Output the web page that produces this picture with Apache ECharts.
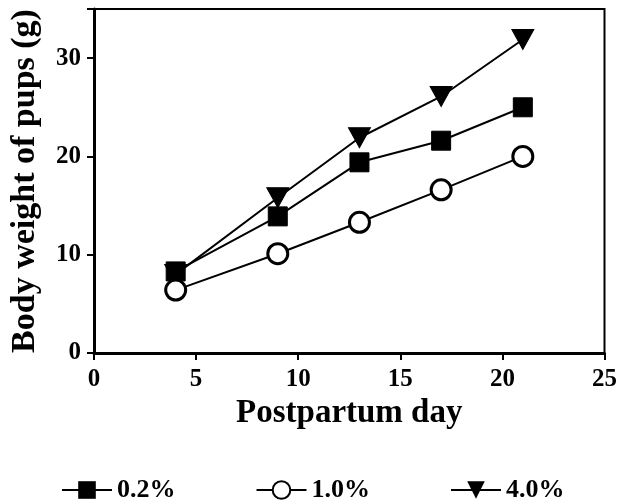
<!DOCTYPE html>
<html>
<head>
<meta charset="utf-8">
<script src="https://cdn.jsdelivr.net/npm/echarts@6/dist/echarts.min.js"></script>
<style>
  html, body { margin: 0; padding: 0; background: #fff; }
  #chart { width: 620px; height: 502px; }
</style>
</head>
<body>
<div id="chart"></div>
<script>
var days = [4, 9, 13, 17, 21];
var low = [8.3, 13.9, 19.4, 21.6, 25.0];    // 0.2%
var mid = [6.4, 10.1, 13.3, 16.6, 20.0];    // 1.0%
var high = [8.0, 15.8, 21.9, 26.1, 31.9];   // 4.0%
var names = ['0.2%', '1.0%', '4.0%'];

function pairs(ys) {
  var out = [];
  for (var i = 0; i < days.length; i++) {
    out.push([days[i], ys[i]]);
  }
  return out;
}

var font = 'Liberation Serif';
var downTri = 'path://M0,0 L10,0 L5,9 Z';

var chart = echarts.init(document.getElementById('chart'));
chart.setOption({
  animation: false,
  grid: { left: 93, right: 14, top: 9, bottom: 149, show: true, borderColor: '#000', borderWidth: 2 },
  legend: {
    left: 56, top: 472,
    itemWidth: 50, itemHeight: 22, itemGap: 80,
    textStyle: { fontFamily: font, fontWeight: 'bold', fontSize: 26, color: '#000' },
    data: names
  },
  xAxis: {
    type: 'value', min: 0, max: 25, interval: 5,
    name: 'Postpartum day', nameLocation: 'middle', nameGap: 44,
    nameTextStyle: { fontFamily: font, fontWeight: 'bold', fontSize: 33, color: '#000' },
    axisLine: { onZero: false, lineStyle: { color: '#000', width: 3 } },
    axisTick: { length: 7, lineStyle: { color: '#000', width: 2 } },
    axisLabel: { fontFamily: font, fontWeight: 'bold', fontSize: 25, color: '#000', margin: 14 },
    splitLine: { show: false }
  },
  yAxis: {
    type: 'value', min: 0, max: 35, interval: 10,
    name: 'Body weight of pups (g)', nameLocation: 'middle', nameGap: 52,
    nameTextStyle: { fontFamily: font, fontWeight: 'bold', fontSize: 34, color: '#000' },
    axisLine: { onZero: false, lineStyle: { color: '#000', width: 3 } },
    axisTick: { length: 7, lineStyle: { color: '#000', width: 2 } },
    axisLabel: { fontFamily: font, fontWeight: 'bold', fontSize: 25, color: '#000', margin: 13,
      formatter: function (v) { return v % 10 === 0 ? v : ''; } },
    splitLine: { show: false }
  },
  series: [
    {
      name: names[0], type: 'line', data: pairs(low),
      symbol: 'rect', symbolSize: 19,
      lineStyle: { color: '#000', width: 2 },
      itemStyle: { color: '#000', borderColor: '#000' }
    },
    {
      name: names[1], type: 'line', data: pairs(mid),
      symbol: 'circle', symbolSize: 20,
      lineStyle: { color: '#000', width: 2 },
      itemStyle: { color: '#fff', borderColor: '#000', borderWidth: 3 }
    },
    {
      name: names[2], type: 'line', data: pairs(high),
      symbol: downTri, symbolSize: [22, 20],
      lineStyle: { color: '#000', width: 2 },
      itemStyle: { color: '#000', borderColor: '#000' },
      z: 1
    }
  ]
});
</script>
</body>
</html>
